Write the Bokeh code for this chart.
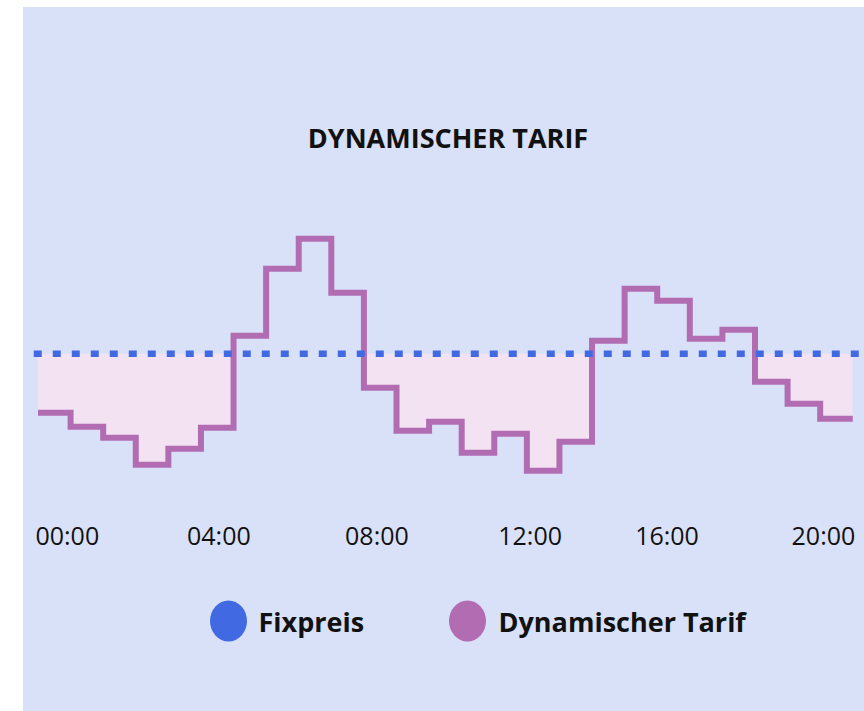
from bokeh.plotting import figure
from bokeh.models import Range1d, FixedTicker, Label, Spacer
from bokeh.layouts import row, column
from bokeh.core.properties import value
from bokeh.embed import file_html
from bokeh.resources import INLINE

# ---------------- data ----------------
hours = list(range(25))  # start hour index of each price step
dynamic_price = [24.1, 22.7, 21.6, 18.9, 20.5, 22.6, 31.8, 38.5, 41.5, 36.1,
                 26.6, 22.3, 23.2, 20.1, 22.0, 18.3, 21.2, 31.3, 36.5, 35.3,
                 31.5, 32.4, 27.2, 25.0, 23.5]
fixed_price = 30.0
tick_positions = [0.9, 5.55, 10.4, 15.1, 19.3, 24.1]
tick_labels = ["00:00", "04:00", "08:00", "12:00", "16:00", "20:00"]
series_names = ["Fixpreis", "Dynamischer Tarif"]
title_text = "DYNAMISCHER TARIF"

# ---------------- style ----------------
BG = "#d9e1f8"
BLUE = "#4169e1"
PURPLE = "#b16cb2"
FILL = "#f2e2f2"
FONT = "Open Sans"

# step arrays (last step closed at hour 25)
xs = hours + [hours[-1] + 1]
ys = dynamic_price + [dynamic_price[-1]]
lower = [min(v, fixed_price) for v in ys]
upper = [fixed_price] * len(xs)

p = figure(frame_width=841, frame_height=507,
           x_range=Range1d(-0.445, 25.36), y_range=Range1d(13.93, 64.63),
           output_backend="svg", toolbar_location=None,
           y_axis_location=None, x_axis_location="below",
           min_border=0, min_border_left=0, min_border_right=0,
           min_border_top=0, min_border_bottom=0)
p.background_fill_color = None
p.border_fill_color = BG
p.outline_line_color = None
p.grid.visible = False

# area where dynamic tariff is below the fixed price
p.varea_step(x=xs, y1=lower, y2=upper, step_mode="after", fill_color=FILL)
# dynamic tariff step line
p.step(x=xs, y=ys, mode="after", line_color=PURPLE, line_width=6,
       line_join="miter", line_cap="butt")
# fixed price dotted line
p.line(x=[-0.13, 25.5], y=[fixed_price, fixed_price], line_color=BLUE,
       line_width=6.5, line_dash="8 11", line_cap="butt")

ax = p.xaxis[0]
ax.ticker = FixedTicker(ticks=tick_positions)
ax.major_label_overrides = {t: l for t, l in zip(tick_positions, tick_labels)}
ax.axis_line_color = None
ax.major_tick_line_color = None
ax.minor_tick_line_color = None
ax.major_tick_out = 0
ax.major_tick_in = 0
ax.major_label_standoff = 3
ax.major_label_text_font = FONT
ax.major_label_text_font_size = "25px"
ax.major_label_text_color = "#111111"

p.add_layout(Label(x=424.5, y=377.5, x_units="screen", y_units="screen",
                   text=title_text, text_align="center", text_baseline="middle",
                   text_font=FONT, text_font_style="bold", text_font_size="27px",
                   text_color="#111111"))

# ---------------- legend strip ----------------
p2 = figure(frame_width=841, frame_height=157,
            x_range=Range1d(23, 864), y_range=Range1d(711, 554),
            output_backend="svg", toolbar_location=None,
            x_axis_location=None, y_axis_location=None,
            min_border=0, min_border_left=0, min_border_right=0,
            min_border_top=0, min_border_bottom=0)
p2.background_fill_color = None
p2.border_fill_color = BG
p2.outline_line_color = None
p2.grid.visible = False

legend_colors = [BLUE, PURPLE]
marker_x = [228, 467]
label_x = [258, 498]
legend_y = [620.5, 620.5]
p2.ellipse(x=marker_x, y=legend_y, width=37, height=41,
           fill_color=legend_colors, line_color=None)
p2.text(x=label_x, y=legend_y, text=series_names,
        text_font=value(FONT), text_font_style="bold", text_font_size="27px",
        text_baseline="middle", text_align="left", text_color="#111111")

chart = column(p, p2, spacing=0, styles={"background-color": BG})
layout = column(Spacer(height=7),
                row(Spacer(width=23), chart, spacing=0),
                spacing=0)

open("out.html", "w").write(file_html(layout, INLINE))
